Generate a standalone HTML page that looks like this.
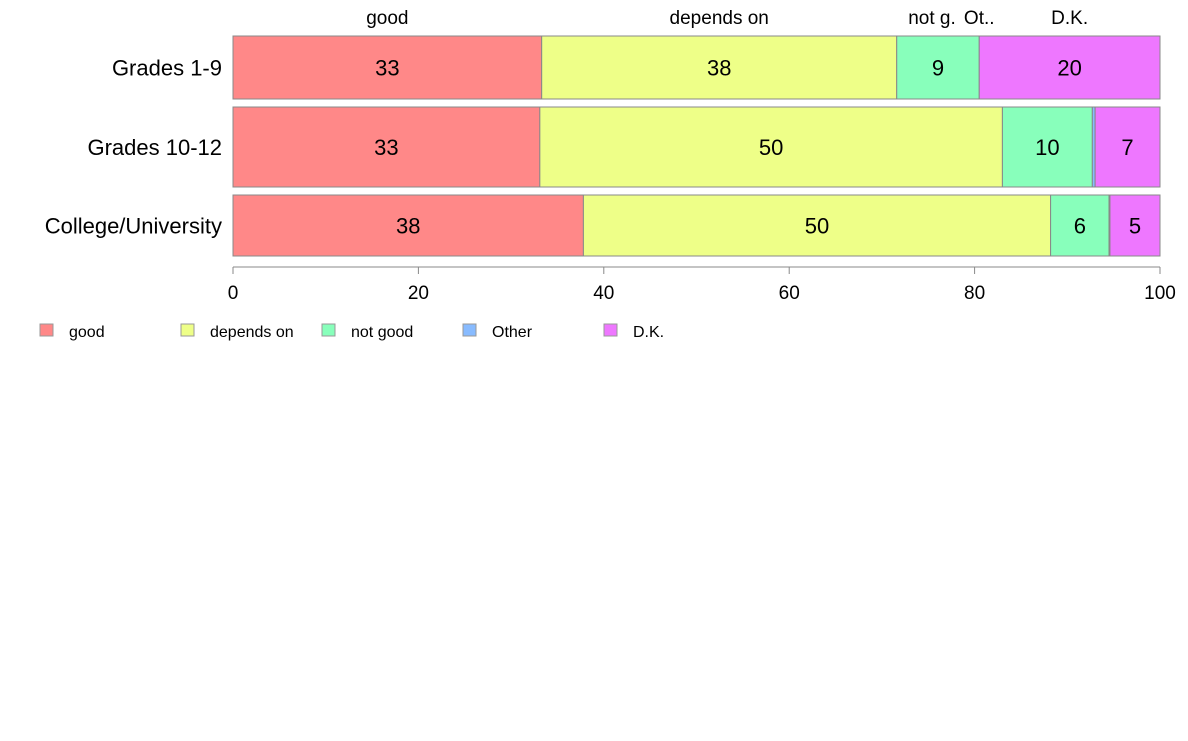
<!DOCTYPE html>
<html><head><meta charset="utf-8"><style>
body{margin:0;background:#fff;}
svg text{font-family:"Liberation Sans",Arial,sans-serif;}
</style></head><body>
<svg id="chart" width="1188" height="736" xmlns="http://www.w3.org/2000/svg"></svg>
<script>
const categories = ["Grades 1-9", "Grades 10-12", "College/University"];
const seriesNames = ["good", "depends on", "not good", "Other", "D.K."];
const topLabels = ["good", "depends on", "not g.", "Ot..", "D.K."];
const good = [33.3, 33.1, 37.8];
const dependsOn = [38.3, 49.9, 50.4];
const notGood = [8.9, 9.7, 6.3];
const other = [0, 0.3, 0.1];
const dk = [19.5, 7.0, 5.4];
const ticks = [0, 20, 40, 60, 80, 100];

const series = [good, dependsOn, notGood, other, dk];
const colors = ["#ff8888", "#eeff88", "#88ffbb", "#88bbff", "#ee77ff"];
const svg = document.getElementById('chart');
const NS = "http://www.w3.org/2000/svg";
const x0 = 233, x1 = 1160;
const xs = v => x0 + (x1 - x0) * v / 100;
const rows = [[36, 99], [107, 187], [195, 256]];
function mk(tag, attrs, txt) {
  const e = document.createElementNS(NS, tag);
  for (const k in attrs) e.setAttribute(k, attrs[k]);
  if (txt !== undefined) e.textContent = txt;
  svg.appendChild(e);
  return e;
}
categories.forEach((c, i) => {
  const [y0, y1] = rows[i];
  const lab = mk('text', {x: 222, y: (y0 + y1) / 2 + 8, 'text-anchor': 'end', 'font-size': 22, fill: '#000'}, c);
  
  
  let acc = 0;
  series.forEach((s, j) => {
    const v = s[i];
    const r = mk('rect', {x: xs(acc), y: y0, width: Math.max(0, xs(acc + v) - xs(acc)), height: y1 - y0, fill: colors[j], stroke: '#888', 'stroke-width': 1});
    
    
    if (v >= 3) {
      const t = mk('text', {x: (xs(acc) + xs(acc + v)) / 2, y: (y0 + y1) / 2 + 8, 'text-anchor': 'middle', 'font-size': 22, fill: '#000'}, String(Math.round(v)));
      
      
    }
    if (i === 0) {
      const tl = mk('text', {x: (xs(acc) + xs(acc + v)) / 2 + (j === 2 ? -6 : 0), y: 24, 'text-anchor': 'middle', 'font-size': 19, fill: '#000'}, topLabels[j]);
      
      
    }
    acc += v;
  });
});
const ax = mk('line', {x1: x0, x2: x1, y1: 267, y2: 267, stroke: '#888', 'stroke-width': 1});


ticks.forEach(t => {
  const tk = mk('line', {x1: xs(t), x2: xs(t), y1: 267, y2: 274, stroke: '#888', 'stroke-width': 1});
  
  
  const tl = mk('text', {x: xs(t), y: 299, 'text-anchor': 'middle', 'font-size': 19, fill: '#000'}, String(t));
  
  
});
const legX = [40, 181, 322, 463, 604];
seriesNames.forEach((n, j) => {
  const sq = mk('rect', {x: legX[j], y: 324, width: 13, height: 12, fill: colors[j], stroke: '#999', 'stroke-width': 1});
  
  
  const lt = mk('text', {x: legX[j] + 29, y: 337, 'font-size': 16, fill: '#000'}, n);
  
  
});
</script>
</body></html>
